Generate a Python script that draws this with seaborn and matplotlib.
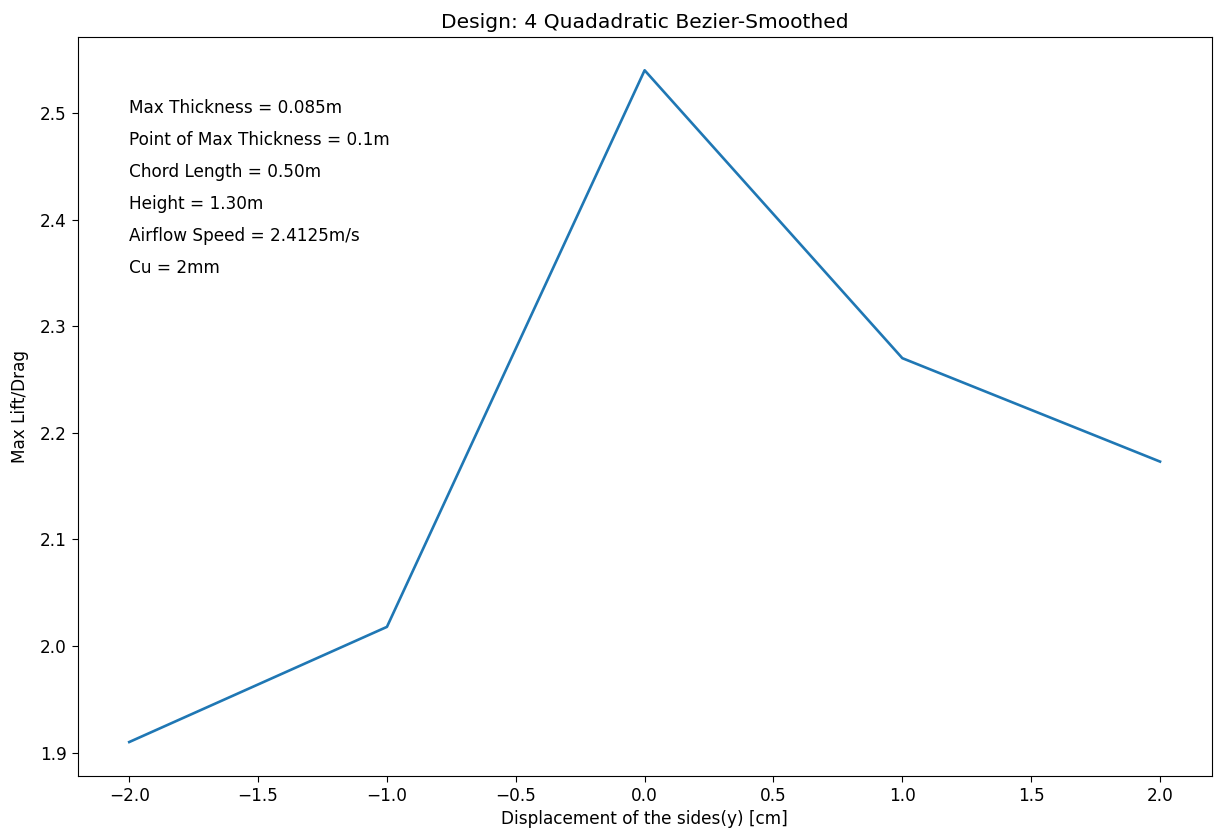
import matplotlib
matplotlib.use("Agg")
import matplotlib.pyplot as plt
import seaborn as sns
import pandas as pd

# Side displacement sweep and the resulting peak lift/drag ratio
displacement_cm = [-2.0, -1.0, 0.0, 1.0, 2.0]
max_lift_drag = [1.910, 2.018, 2.540, 2.270, 2.173]

design_notes = [
    "Max Thickness = 0.085m",
    "Point of Max Thickness = 0.1m",
    "Chord Length = 0.50m",
    "Height = 1.30m",
    "Airflow Speed = 2.4125m/s",
    "Cu = 2mm",
]

base = 12.2
plt.rcParams.update({"font.size": base})

df = pd.DataFrame({"disp": displacement_cm, "ld": max_lift_drag})

fig, ax = plt.subplots(figsize=(12.14, 8.34), dpi=100)
fig.subplots_adjust(left=0.064, right=0.998, top=0.956, bottom=0.07)

sns.lineplot(data=df, x="disp", y="ld", ax=ax, color="#1f77b4", linewidth=1.9)

for i, note in enumerate(design_notes):
    ax.text(-2.0, 2.5 - 0.03 * i, note, fontsize=base)

ax.set_title("Design: 4 Quadadratic Bezier-Smoothed", fontsize=14.6)
ax.set_xlabel("Displacement of the sides(y) [cm]", fontsize=base)
ax.set_ylabel("Max Lift/Drag", fontsize=base, labelpad=8)
ax.tick_params(labelsize=base, length=4.5)

fig.savefig("out.png", dpi=100)
